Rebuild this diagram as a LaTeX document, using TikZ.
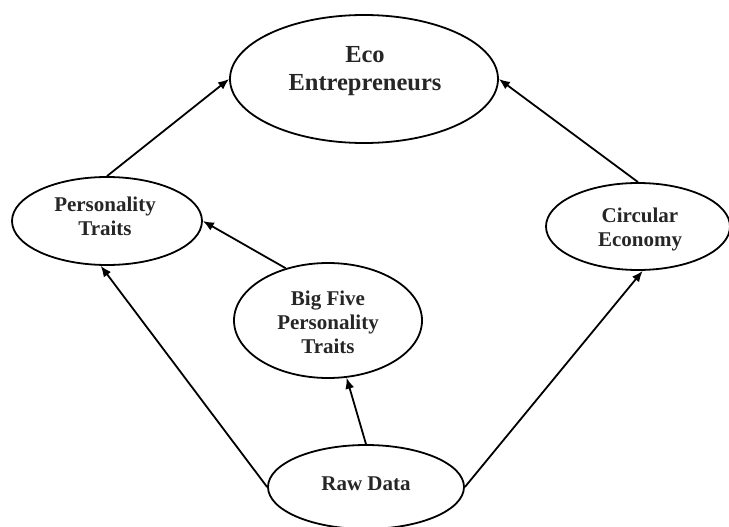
\documentclass[tikz,border=0pt]{standalone}
\usepackage{fontspec}
\setmainfont{Liberation Serif}
\usetikzlibrary{shapes.geometric,arrows.meta}
\begin{document}
\begin{tikzpicture}[x=1pt,y=-1pt,
  bubble/.style={ellipse, draw=black, line width=1.8pt, inner sep=0pt},
  caption/.style={font=\bfseries\fontsize{21}{24}\selectfont, text=black!85, align=center, inner sep=0pt},
  bigcaption/.style={caption, font=\bfseries\fontsize{24.5}{28}\selectfont},
  link/.style={line width=1.8pt, -{Latex[length=11pt,width=9pt]}}]
\useasboundingbox (0,0) rectangle (729,527);

% ellipses
\node[bubble, minimum width=268pt, minimum height=128pt] (eco)  at (364,79)    {};
\node[bubble, minimum width=190pt, minimum height=88pt]  (pers) at (107,221)   {};
\node[bubble, minimum width=184pt, minimum height=87pt]  (circ) at (638,226.5) {};
\node[bubble, minimum width=188pt, minimum height=115pt] (big)  at (328,320.5) {};
\node[bubble, minimum width=196pt, minimum height=84pt]  (raw)  at (366,487)   {};

% labels
\node[bigcaption] (ecoT)  at (365,71)  {Eco\\Entrepreneurs};
\node[caption]    (persT) at (105,216) {Personality\\Traits};
\node[caption]    (circT) at (640,229.5) {Circular\\Economy};
\node[caption]    (bigT)  at (328,322) {Big Five\\Personality\\Traits};
\node[caption]    (rawT)  at (366,484) {Raw Data};

% connectors
\draw[link] (pers.north) -- (eco.west);
\draw[link] (circ.north) -- (eco.east);
\draw[link] (big.129)    -- (pers.east);
\draw[link] (raw.north)  -- (big.288);
\draw[link] (raw.west)   -- (pers.262);
\draw[link] (raw.east)   -- (circ.276);
\end{tikzpicture}
\end{document}
